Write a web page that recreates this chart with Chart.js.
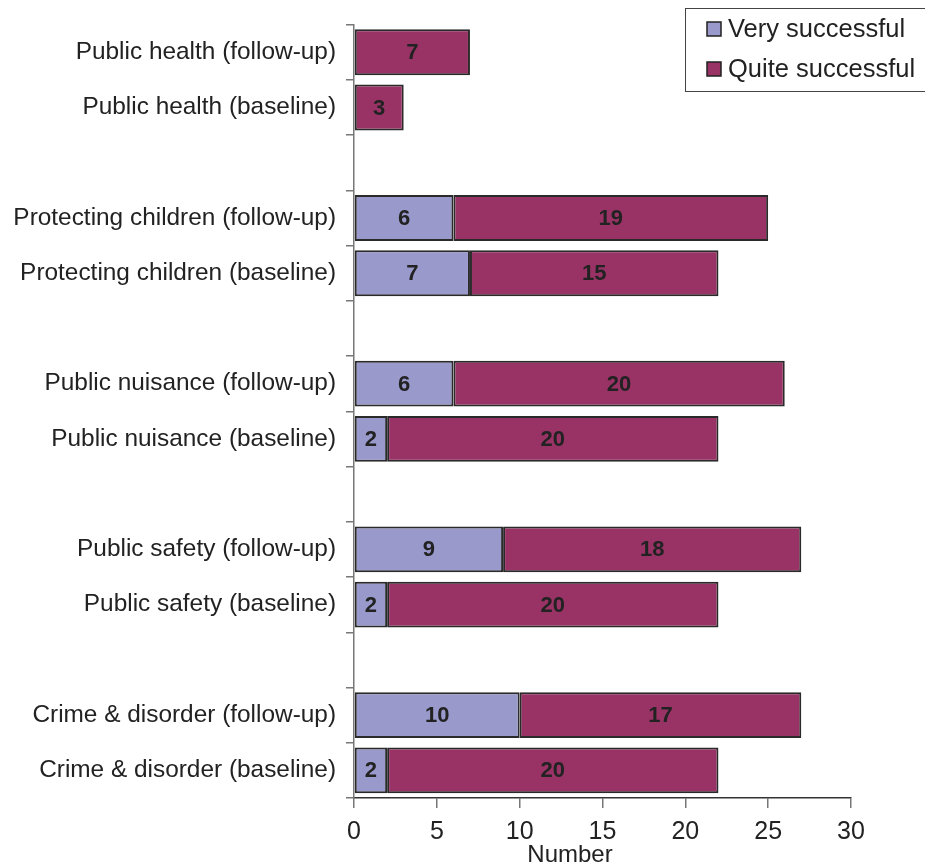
<!DOCTYPE html>
<html>
<head>
<meta charset="utf-8">
<script src="https://cdn.jsdelivr.net/npm/chart.js@4.4.1/dist/chart.umd.min.js"></script>
<style>
  html, body { margin: 0; padding: 0; background: #fff; }
  #wrap { width: 925px; height: 865px; position: relative; }
</style>
</head>
<body>
<div id="wrap"><canvas id="c" width="925" height="865"></canvas></div>
<script>
const categories = [
  'Public health (follow-up)',
  'Public health (baseline)',
  '',
  'Protecting children (follow-up)',
  'Protecting children (baseline)',
  '',
  'Public nuisance (follow-up)',
  'Public nuisance (baseline)',
  '',
  'Public safety (follow-up)',
  'Public safety (baseline)',
  '',
  'Crime & disorder (follow-up)',
  'Crime & disorder (baseline)'
];
const verySuccessful  = [null, null, null, 6, 7, null, 6, 2, null, 9, 2, null, 10, 2];
const quiteSuccessful = [7, 3, null, 19, 15, null, 20, 20, null, 18, 20, null, 17, 20];
const xTicks = [0, 5, 10, 15, 20, 25, 30];
const seriesNames = ['Very successful', 'Quite successful'];
const xTitle = 'Number';

const FONT = '"Liberation Sans", Arial, sans-serif';
const COLORS = ['#9999CC', '#993366'];

const valueLabels = {
  id: 'valueLabels',
  afterDatasetsDraw(chart) {
    const ctx = chart.ctx;
    ctx.save();
    ctx.font = 'bold 22px ' + FONT;
    ctx.fillStyle = '#222';
    ctx.textAlign = 'center';
    ctx.textBaseline = 'middle';
    chart.data.datasets.forEach((ds, di) => {
      const meta = chart.getDatasetMeta(di);
      meta.data.forEach((el, i) => {
        const v = ds.data[i];
        if (v == null) return;
        const x = (el.x + el.base) / 2;
        ctx.fillText(String(v), x, el.y + 1);
      });
    });
    ctx.restore();
  }
};

const boxLegend = {
  id: 'boxLegend',
  afterDraw(chart) {
    const ctx = chart.ctx;
    ctx.save();
    ctx.strokeStyle = '#444';
    ctx.lineWidth = 1;
    ctx.strokeRect(685.5, 8.5, 245, 83);
    ctx.font = '25.5px ' + FONT;
    ctx.textBaseline = 'middle';
    ctx.textAlign = 'left';
    const ys = [29, 69];
    seriesNames.forEach((n, i) => {
      ctx.fillStyle = COLORS[i];
      ctx.fillRect(707, ys[i] - 7, 14, 14);
      ctx.strokeStyle = '#222';
      ctx.lineWidth = 1.5;
      ctx.strokeRect(707, ys[i] - 7, 14, 14);
      ctx.fillStyle = '#222';
      ctx.fillText(n, 728, ys[i] + 1);
    });
    // x axis title
    ctx.font = '24px ' + FONT;
    ctx.textAlign = 'center';
    ctx.fillText(xTitle, 570, 855);
    ctx.restore();
  }
};

new Chart(document.getElementById('c'), {
  type: 'bar',
  data: {
    labels: categories,
    datasets: [
      { label: seriesNames[0], data: verySuccessful, backgroundColor: COLORS[0], borderColor: '#2a2a2a', borderWidth: 2, borderSkipped: false },
      { label: seriesNames[1], data: quiteSuccessful, backgroundColor: COLORS[1], borderColor: '#2a2a2a', borderWidth: 2, borderSkipped: false }
    ]
  },
  options: {
    indexAxis: 'y',
    responsive: false,
    animation: false,
    devicePixelRatio: 1,
    layout: { padding: { top: 23, right: 74, left: 0, bottom: 0 } },
    datasets: { bar: { categoryPercentage: 1, barPercentage: 0.83 } },
    plugins: {
      legend: { display: false },
      tooltip: { enabled: false }
    },
    scales: {
      x: {
        stacked: true,
        min: 0, max: 30,
        afterBuildTicks(scale) { scale.ticks = xTicks.map(v => ({ value: v })); },
        afterFit(scale) { scale.height = 67; },
        grid: { drawOnChartArea: false, color: '#777', tickLength: 10, lineWidth: 1.5 },
        border: { color: '#333', width: 1.5 },
        ticks: { font: { family: FONT, size: 25 }, color: '#222', padding: 9, maxRotation: 0 },
        title: { display: false }
      },
      y: {
        stacked: true,
        afterFit(scale) { scale.width = 354; },
        grid: { drawOnChartArea: false, offset: true, color: '#777', tickLength: 8, lineWidth: 1.5 },
        border: { color: '#777', width: 1.5 },
        ticks: { font: { family: FONT, size: 24.4 }, color: '#222', padding: 10, autoSkip: false }
      }
    }
  },
  plugins: [valueLabels, boxLegend]
});
</script>
</body>
</html>
